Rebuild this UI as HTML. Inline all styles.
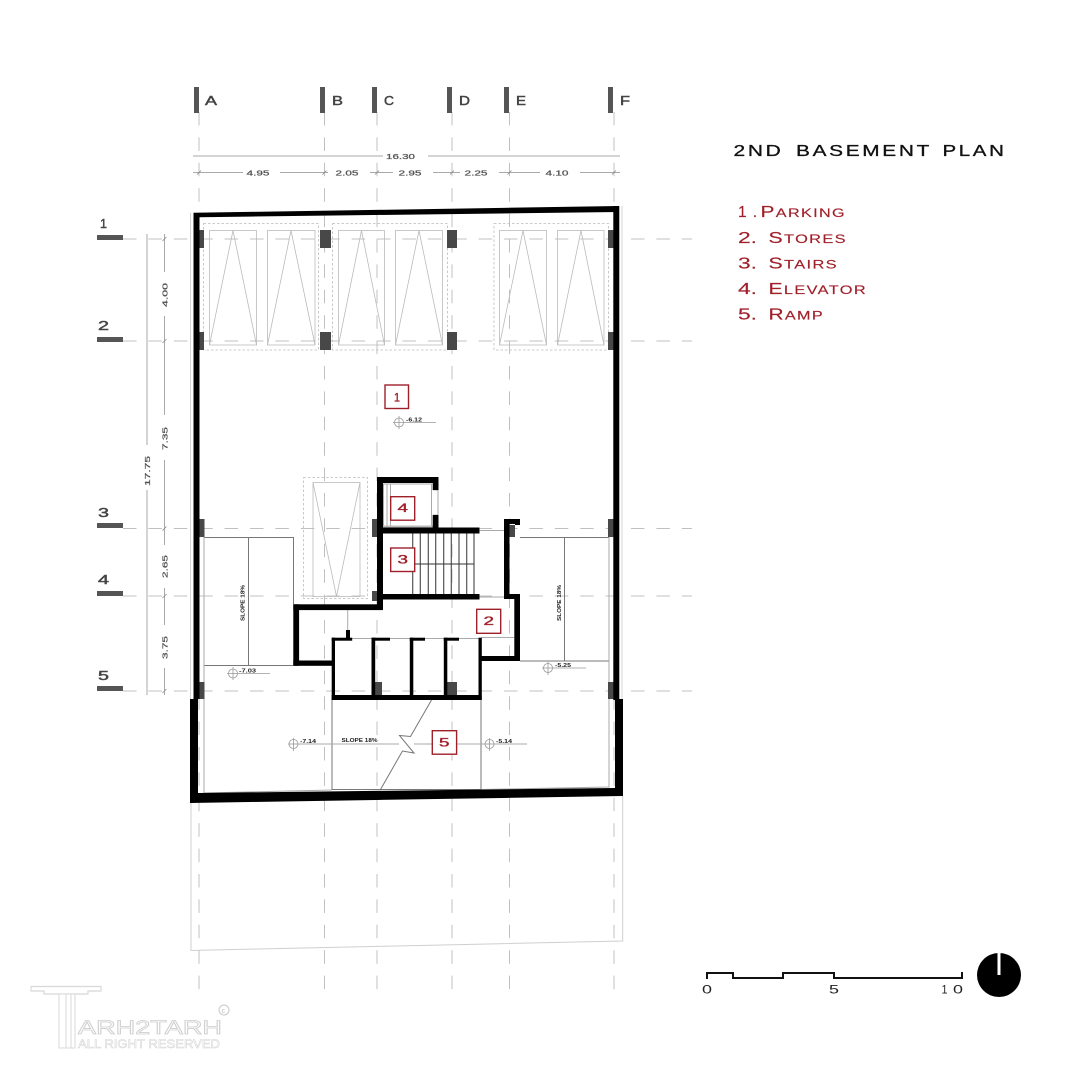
<!DOCTYPE html>
<html>
<head>
<meta charset="utf-8">
<title>2nd Basement Plan</title>
<style>
html,body{margin:0;padding:0;background:#fff}
svg{display:block;filter:blur(0.35px)}
text{font-family:"Liberation Sans",sans-serif}
</style>
</head>
<body>
<svg xmlns="http://www.w3.org/2000/svg" width="1080" height="1080" viewBox="0 0 1080 1080">
<rect width="1080" height="1080" fill="#fff"/>

<!-- grid -->
<g stroke="#c0c0c0" stroke-width="1" stroke-dasharray="13.500 11.900" fill="none">
<path d="M199 112V992M324.500 112V992M377 112V992M452 112V992M509.500 112V992M614 112V992"/>
<path d="M123 239H692M123 341H692M123 528.500H692M123 596H692M123 691H692"/>
</g>

<!-- ghost outline -->
<path d="M191 800V950.500L622.700 941V795" fill="none" stroke="#cfcfcf" stroke-width="1"/>
<path d="M190.500 213V700M622 206V700" fill="none" stroke="#d4d4d4" stroke-width="1"/>

<!-- grid markers -->
<g fill="#555">
<rect x="194" y="87" width="5" height="26"/><rect x="320" y="87" width="5" height="26"/><rect x="372" y="87" width="5" height="26"/><rect x="447" y="87" width="5" height="26"/><rect x="504" y="87" width="5" height="26"/><rect x="608" y="87" width="5" height="26"/>
<rect x="97" y="235" width="26" height="5"/><rect x="97" y="337" width="26" height="5"/><rect x="97" y="523" width="26" height="5"/><rect x="97" y="591" width="26" height="5"/><rect x="97" y="686" width="26" height="5"/>
</g>
<g fill="#444" stroke="#444" stroke-width="0.45" font-size="12.500">
<text x="205" y="105" textLength="12" lengthAdjust="spacingAndGlyphs">A</text>
<text x="332" y="105" textLength="11" lengthAdjust="spacingAndGlyphs">B</text>
<text x="384" y="105" textLength="10" lengthAdjust="spacingAndGlyphs">C</text>
<text x="459" y="105" textLength="11" lengthAdjust="spacingAndGlyphs">D</text>
<text x="516" y="105" textLength="10" lengthAdjust="spacingAndGlyphs">E</text>
<text x="620" y="105" textLength="10" lengthAdjust="spacingAndGlyphs">F</text>
<text x="100" y="228" textLength="7" lengthAdjust="spacingAndGlyphs">1</text>
<text x="98" y="330" textLength="11" lengthAdjust="spacingAndGlyphs">2</text>
<text x="98" y="517" textLength="11" lengthAdjust="spacingAndGlyphs">3</text>
<text x="98" y="584" textLength="11" lengthAdjust="spacingAndGlyphs">4</text>
<text x="98" y="680" textLength="11" lengthAdjust="spacingAndGlyphs">5</text>
</g>

<!-- dimensions -->
<g stroke="#aaa" stroke-width="1" fill="none">
<path d="M193 156H383M428 156H620"/>
<path d="M193 172.500H243M280 172.500H328M370 172.500H393M433 172.500H460M499 172.500H540M580 172.500H620"/>
<path d="M147 234V445M147 490V695"/>
<path d="M164.500 234V272M164.500 316V415M164.500 460V545M164.500 588V625M164.500 668V695"/>
</g>
<path d="M197 174.500L201 170.500M322.500 174.500L326.500 170.500M375 174.500L379 170.500M450 174.500L454 170.500M507.500 174.500L511.500 170.500M612 174.500L616 170.500M162.500 241L166.500 237M162.500 343L166.500 339M162.500 530.500L166.500 526.500M162.500 598L166.500 594M162.500 693L166.500 689" stroke="#888" stroke-width="0.8" fill="none"/>
<g fill="#555" stroke="#555" stroke-width="0.25" font-size="7.500">
<text x="386" y="159" textLength="29" lengthAdjust="spacingAndGlyphs">16.30</text>
<text x="246.500" y="175.500" textLength="23" lengthAdjust="spacingAndGlyphs">4.95</text>
<text x="335.500" y="175.500" textLength="23" lengthAdjust="spacingAndGlyphs">2.05</text>
<text x="398.500" y="175.500" textLength="23" lengthAdjust="spacingAndGlyphs">2.95</text>
<text x="464.500" y="175.500" textLength="23" lengthAdjust="spacingAndGlyphs">2.25</text>
<text x="545.500" y="175.500" textLength="23" lengthAdjust="spacingAndGlyphs">4.10</text>
<text transform="translate(150,486) rotate(-90)" textLength="30" lengthAdjust="spacingAndGlyphs">17.75</text>
<text transform="translate(167.500,307) rotate(-90)" textLength="24" lengthAdjust="spacingAndGlyphs">4.00</text>
<text transform="translate(167.500,450) rotate(-90)" textLength="23" lengthAdjust="spacingAndGlyphs">7.35</text>
<text transform="translate(167.500,578) rotate(-90)" textLength="23" lengthAdjust="spacingAndGlyphs">2.65</text>
<text transform="translate(167.500,659) rotate(-90)" textLength="23" lengthAdjust="spacingAndGlyphs">3.75</text>
</g>

<!-- parking units -->
<g fill="none" stroke="#bbb" stroke-width="0.8">
<g stroke-dasharray="2.500 2">
<rect x="203.500" y="223.500" width="115" height="126.500"/>
<rect x="332.500" y="223.500" width="115" height="126.500"/>
<rect x="494" y="223.500" width="114.500" height="126.500"/>
<rect x="303.500" y="477.500" width="64" height="121"/>
</g>
<rect x="209.500" y="230.500" width="47" height="114.500"/><path d="M209.500 345L233 230.500L256.500 345"/>
<rect x="267.500" y="230.500" width="47.500" height="114.500"/><path d="M267.500 345L291 230.500L315 345"/>
<rect x="338.500" y="230.500" width="46" height="114.500"/><path d="M338.500 345L361.500 230.500L384.500 345"/>
<rect x="395.500" y="230.500" width="47" height="114.500"/><path d="M395.500 345L419 230.500L442.500 345"/>
<rect x="499.500" y="230.500" width="47" height="114.500"/><path d="M499.500 345L523 230.500L546.500 345"/>
<rect x="557.500" y="230.500" width="46.500" height="114.500"/><path d="M557.500 345L581 230.500L604 345"/>
<rect x="313" y="482.500" width="47" height="114"/><path d="M313 482.500L336.500 596.500L360 482.500"/>
</g>

<!-- thin plan lines -->
<g fill="none" stroke="#777" stroke-width="1">
<path d="M204 537.500H293.500V604"/>
<path d="M248.500 537.500V665.500"/>
<path d="M204 665.500H293"/>
<path d="M520 537.500H609"/>
<path d="M564.500 537.500V661"/>
<path d="M520 661H609"/>
<path d="M332 697V789.500H481M481 661V789.500"/>
<path d="M431.500 700L410.500 736.500L399.500 735.500L414 753L402.500 751L380.500 789.500"/>
</g>
<g fill="none" stroke="#aaa" stroke-width="1">
<path d="M204 537V793L332 790"/>
<path d="M609 537V787L481 789.500"/>
<path d="M288 744H399M414 744H527"/>
<path d="M347.700 610V630"/>
<path d="M352 638.500H372M390 638.500H410M425 638.500H444M459 638.500H479M481 637.500H514"/>
<path d="M479 530.500H504M479 597H504"/>
<rect x="383.500" y="484" width="48" height="43"/>
<path d="M387 484V527M390.500 484V527"/>
<path d="M433.500 490H438V515H433.500"/>
</g>
<rect x="383" y="525.500" width="50" height="2.500" fill="#bbb"/>

<!-- stairs -->
<path d="M412.700 533V594M420.300 533V594M428.300 533V594M435.700 533V594M443.700 533V594M451.300 533V594M459 533V594M466.700 533V594M474 533V594" stroke="#555" stroke-width="1.200" fill="none"/>
<path d="M414 564H474" stroke="#333" stroke-width="1" fill="none"/>

<!-- columns -->
<g fill="#484848">
<rect x="199" y="230" width="5" height="18"/><rect x="199" y="332" width="5" height="18"/>
<rect x="320" y="230" width="11" height="18"/><rect x="320" y="332" width="11" height="18"/>
<rect x="447" y="230" width="10" height="18"/><rect x="447" y="332" width="10" height="18"/>
<rect x="608" y="230" width="5.500" height="18"/><rect x="608" y="332" width="5.500" height="18"/>
<rect x="199" y="519" width="5.500" height="18"/><rect x="372" y="519" width="6" height="18"/>
<rect x="509" y="525" width="6" height="12"/><rect x="608" y="519" width="5.500" height="18"/>
<rect x="372" y="591" width="6" height="10"/>
<rect x="199" y="682" width="5.500" height="17"/><rect x="375" y="682" width="7" height="13"/>
<rect x="447" y="682" width="10" height="13"/><rect x="608" y="682" width="5.500" height="17"/>
</g>

<!-- outer walls -->
<g fill="#000">
<path d="M193.500 212.800L619 206V212L199.500 217.200V699H193.500Z"/>
<rect x="613.300" y="206" width="6" height="494"/>
<path d="M190 699H198V793L615 788V699H623V796L190 803Z"/>
</g>

<!-- inner walls -->
<g fill="#000">
<rect x="377" y="477" width="61.500" height="6"/>
<rect x="377" y="477" width="6" height="133"/>
<rect x="432.700" y="477" width="5.800" height="13"/>
<rect x="432.700" y="515" width="5.800" height="13"/>
<rect x="377" y="527.500" width="102.500" height="6"/>
<rect x="377" y="594" width="102.500" height="5.500"/>
<rect x="293.300" y="604.300" width="89.500" height="5.800"/>
<rect x="293.300" y="604.300" width="5.800" height="61.500"/>
<rect x="293.300" y="660.500" width="40" height="5.300"/>
<rect x="331.700" y="637.700" width="3.300" height="62"/>
<rect x="331.700" y="637.700" width="20.500" height="3"/>
<rect x="346" y="630" width="4" height="10"/>
<rect x="371.500" y="637.700" width="3.700" height="60"/>
<rect x="371.500" y="637.700" width="18.500" height="3"/>
<rect x="409.800" y="637.700" width="3.500" height="60"/>
<rect x="409.800" y="637.700" width="15.200" height="3"/>
<rect x="443.800" y="637.700" width="3.500" height="60"/>
<rect x="443.800" y="637.700" width="15.200" height="3"/>
<rect x="478.500" y="637.700" width="3.300" height="62"/>
<rect x="331.700" y="695" width="150" height="5"/>
<rect x="479" y="656" width="41" height="5"/>
<rect x="514.300" y="594" width="5.700" height="67"/>
<rect x="504" y="594" width="16" height="5"/>
<rect x="504" y="519" width="5.500" height="80"/>
<rect x="504" y="519" width="16" height="5"/>
<rect x="515" y="519" width="5" height="6"/>
</g>

<!-- red tags -->
<g fill="#fff" stroke="#a0202a" stroke-width="1.400">
<rect x="385" y="385" width="23.500" height="23.500" fill="none"/>
<rect x="390.700" y="496.700" width="24" height="23.500"/>
<rect x="390.700" y="548" width="24" height="23.500"/>
<rect x="476.700" y="609.300" width="24" height="24"/>
<rect x="432.300" y="730.700" width="24.300" height="23.500"/>
</g>
<g fill="#a0202a" stroke="#a0202a" stroke-width="0.35" font-size="11.500">
<text x="394" y="401.500" textLength="6" lengthAdjust="spacingAndGlyphs">1</text>
<text x="397.500" y="512" textLength="10.500" lengthAdjust="spacingAndGlyphs">4</text>
<text x="397.500" y="563.500" textLength="10.500" lengthAdjust="spacingAndGlyphs">3</text>
<text x="483.500" y="625" textLength="10.500" lengthAdjust="spacingAndGlyphs">2</text>
<text x="439" y="746.500" textLength="10.500" lengthAdjust="spacingAndGlyphs">5</text>
</g>

<!-- level marks -->
<g fill="none" stroke="#999" stroke-width="0.8">
<circle cx="399" cy="422.500" r="4.500"/><path d="M399 416V429M393 422.500H436"/>
<circle cx="233" cy="673.500" r="4.500"/><path d="M233 667V680M227 673.500H270"/>
<circle cx="293.500" cy="744" r="4.500"/><path d="M293.500 738V751"/>
<circle cx="548" cy="668" r="4.500"/><path d="M548 662V675M542 668H586"/>
<circle cx="489.500" cy="744" r="4.500"/><path d="M489.500 738V751"/>
</g>
<g fill="#222" font-size="5.500" font-weight="bold">
<text x="406" y="421.500" textLength="16" lengthAdjust="spacingAndGlyphs">-6.12</text>
<text x="239" y="672.500" textLength="17" lengthAdjust="spacingAndGlyphs">-7.03</text>
<text x="300" y="743" textLength="16" lengthAdjust="spacingAndGlyphs">-7.14</text>
<text x="555" y="667" textLength="16" lengthAdjust="spacingAndGlyphs">-5.25</text>
<text x="496" y="743" textLength="16" lengthAdjust="spacingAndGlyphs">-5.14</text>
<text x="341.500" y="742" textLength="36" lengthAdjust="spacingAndGlyphs">SLOPE 18%</text>
<text transform="translate(244.500,621) rotate(-90)" textLength="36" lengthAdjust="spacingAndGlyphs">SLOPE 18%</text>
<text transform="translate(561,621) rotate(-90)" textLength="36" lengthAdjust="spacingAndGlyphs">SLOPE 18%</text>
</g>

<!-- title and legend -->
<g font-size="15.500" fill="#111" stroke="#111" stroke-width="0.3" letter-spacing="2">
<text x="733.500" y="156" textLength="50" lengthAdjust="spacingAndGlyphs">2ND</text>
<text x="796" y="156" textLength="136" lengthAdjust="spacingAndGlyphs">BASEMENT</text>
<text x="942.500" y="156" textLength="64" lengthAdjust="spacingAndGlyphs">PLAN</text>
</g>
<g fill="#a0202a" font-size="15.500" stroke="#a0202a" stroke-width="0.15">
<text x="738" y="217" textLength="19" lengthAdjust="spacing">1.</text>
<text x="760.500" y="217" textLength="85.500" lengthAdjust="spacingAndGlyphs" letter-spacing="1">P<tspan font-size="12">ARKING</tspan></text>
<text x="738" y="243" textLength="19" lengthAdjust="spacingAndGlyphs">2.</text>
<text x="768.500" y="243" textLength="78.500" lengthAdjust="spacingAndGlyphs" letter-spacing="1">S<tspan font-size="12">TORES</tspan></text>
<text x="738" y="268.500" textLength="19" lengthAdjust="spacingAndGlyphs">3.</text>
<text x="768.500" y="268.500" textLength="69.500" lengthAdjust="spacingAndGlyphs" letter-spacing="1">S<tspan font-size="12">TAIRS</tspan></text>
<text x="738" y="294" textLength="19" lengthAdjust="spacingAndGlyphs">4.</text>
<text x="768.500" y="294" textLength="98.500" lengthAdjust="spacingAndGlyphs" letter-spacing="1">E<tspan font-size="12">LEVATOR</tspan></text>
<text x="738" y="319.500" textLength="19" lengthAdjust="spacingAndGlyphs">5.</text>
<text x="768.500" y="319.500" textLength="55.500" lengthAdjust="spacingAndGlyphs" letter-spacing="1">R<tspan font-size="12">AMP</tspan></text>
</g>

<!-- scale bar -->
<path d="M707 979V973H733V978H783V973H834V978H962V972" fill="none" stroke="#111" stroke-width="2"/>
<g fill="#222" font-size="11.500">
<text x="702" y="993.500" textLength="10" lengthAdjust="spacingAndGlyphs">0</text>
<text x="829" y="993.500" textLength="10" lengthAdjust="spacingAndGlyphs">5</text>
<text x="941.500" y="993.500" textLength="6" lengthAdjust="spacingAndGlyphs">1</text>
<text x="953" y="993.500" textLength="10" lengthAdjust="spacingAndGlyphs">0</text>
</g>
<circle cx="999" cy="975" r="22" fill="#000"/>
<rect x="997.500" y="953" width="3" height="22" fill="#fff"/>

<!-- logo -->
<g fill="#fff" stroke="#d8d8d8" stroke-width="1">
<path d="M31 986.500H101V991H88V994H44V991H31Z" stroke-width="1.200"/>
<path d="M59 994H66V1048H59ZM66 994H71V1048H66ZM71 994H75V1048H71Z"/>
</g>
<text x="78" y="1034" font-size="19" fill="#fff" stroke="#cfcfcf" stroke-width="0.8" textLength="144" lengthAdjust="spacingAndGlyphs">ARH2TARH</text>
<text x="78" y="1048" font-size="12" fill="#fff" stroke="#d2d2d2" stroke-width="0.5" textLength="142" lengthAdjust="spacingAndGlyphs">ALL RIGHT RESERVED</text>
<circle cx="224" cy="1010" r="5" fill="none" stroke="#c9c9c9" stroke-width="1"/>
<text x="221.500" y="1013" font-size="7" fill="#bbb">c</text>
</svg>
</body>
</html>
